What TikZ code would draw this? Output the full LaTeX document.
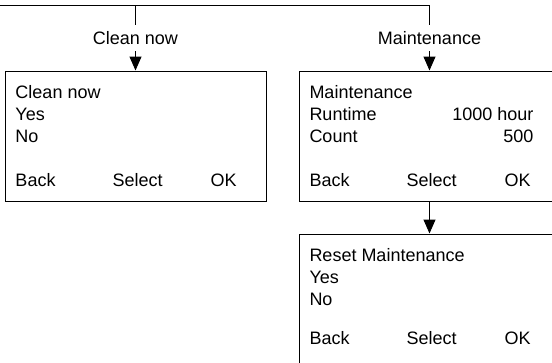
\documentclass[tikz,border=0pt]{standalone}
\usepackage{fontspec}
\setmainfont{Liberation Sans}
\usetikzlibrary{arrows.meta}

\tikzset{
	screen/.style={draw, rectangle, minimum width=261pt, minimum height=130pt, inner sep=0pt},
	menu/.style={inner xsep=4pt, inner ysep=6pt},
	row/.style={anchor=base west, inner sep=0pt},
	value/.style={anchor=base east, inner sep=0pt},
	flow/.style={-{Triangle[length=14pt, width=12pt]}}
}

\begin{document}
\begin{tikzpicture}[x=1pt, y=-1pt, line width=1pt, font=\fontsize{18}{22}\selectfont]
	\clip (0, 0) rectangle (552, 362);
	% screens
	\node[screen] (cleanbox) at (135.5, 136){};
	\node[screen] (maintbox) at (429.5, 136){};
	\node[screen] (resetbox) at (429.5, 299){};
	% menu entries above the screens
	\node[menu] (cleanlbl) at (135.5, 38){Clean now};
	\node[menu] (maintlbl) at (429.5, 38){Maintenance};
	\coordinate (feed) at (-5, 5);
	\draw (feed) -| (maintlbl);
	\draw (cleanlbl) -- (cleanlbl |- feed);
	\draw[flow] (cleanlbl) -- (cleanbox);
	\draw[flow] (maintlbl) -- (maintbox);
	\draw[flow] (maintbox) -- (resetbox);
	% clean now screen
	\node[row] (cleantitle) at (15, 98){Clean now};
	\node[row] (cleanyes) at (15, 120){Yes};
	\node[row] (cleanno) at (15, 142){No};
	\node[row] (cleanback) at (15, 186){Back};
	\node[row] (cleansel) at (112, 186){Select};
	\node[row] (cleanok) at (210, 186){OK};
	% maintenance screen
	\node[row] (mainttitle) at (309, 98){Maintenance};
	\node[row] (maintrun) at (309, 120){Runtime};
	\node[value] (maintrunval) at (534, 120){1000 hour};
	\node[row] (maintcount) at (309, 142){Count};
	\node[value] (maintcountval) at (534, 142){500};
	\node[row] (maintback) at (309, 186){Back};
	\node[row] (maintsel) at (406, 186){Select};
	\node[row] (maintok) at (504, 186){OK};
	% reset maintenance screen
	\node[row] (resettitle) at (309, 261){Reset Maintenance};
	\node[row] (resetyes) at (309, 283){Yes};
	\node[row] (resetno) at (309, 305){No};
	\node[row] (resetback) at (309, 344){Back};
	\node[row] (resetsel) at (406, 344){Select};
	\node[row] (resetok) at (504, 344){OK};
\end{tikzpicture}
\end{document}
